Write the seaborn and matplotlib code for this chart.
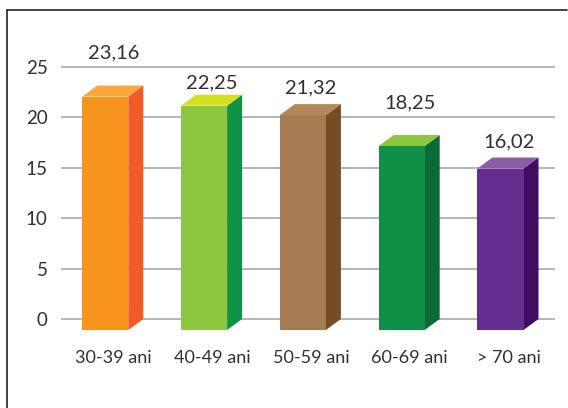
import matplotlib
matplotlib.use("Agg")
import matplotlib.pyplot as plt
import seaborn as sns
import pandas as pd
from matplotlib.patches import Polygon
from matplotlib.lines import Line2D

categories = ["30-39 ani", "40-49 ani", "50-59 ani", "60-69 ani", "> 70 ani"]
values = [23.16, 22.25, 21.32, 18.25, 16.02]
value_labels = ["23,16", "22,25", "21,32", "18,25", "16,02"]
y_ticks = [0, 5, 10, 15, 20, 25]

front_colors = ["#F7941D", "#8DC63F", "#A67C52", "#0E9146", "#662D91"]
side_colors = ["#F15A29", "#0F9447", "#754C24", "#0B6A36", "#400E60"]
top_colors = ["#FBA83A", "#D4DF22", "#B38858", "#8DC63F", "#8C5CA8"]
label_lift = [3.24, 1.15, 1.58, 3.15, 1.58]

sns.set_theme(style="white")
plt.rcParams['font.family'] = ['Lato', 'DejaVu Sans']

W, H = 568, 408
fig = plt.figure(figsize=(W / 100, H / 100), dpi=100)
ylo, yhi = -2.5, 27
ppu_y = 10.08
ax_top = 319 - yhi * ppu_y
ax_bot = 319 - ylo * ppu_y
ax = fig.add_axes([61 / W, 1 - ax_bot / H, 494 / W, (ax_bot - ax_top) / H])

df = pd.DataFrame({"cat": categories, "val": values})
sns.barplot(data=df, x="cat", y="val", hue="cat", palette=front_colors,
            width=0.466, legend=False, ax=ax, saturation=1, zorder=3,
            linewidth=0)

ax.set_xlim(-0.53, 4.47)
ax.set_ylim(ylo, yhi)

dx = 15 / 98.8
dy = 11 / ppu_y
shift = 0.07

bars = sorted(ax.patches, key=lambda p: p.get_x())
for i, p in enumerate(bars):
    x0, w, h = p.get_x(), p.get_width(), p.get_height()
    bx = x0 + shift
    fx = bx - dx
    p.set_x(fx)
    p.set_y(-dy)
    side = Polygon([(fx + w, -dy), (bx + w, 0), (bx + w, h), (fx + w, h - dy)],
                   closed=True, facecolor=side_colors[i], edgecolor="none", zorder=2.9)
    top = Polygon([(fx, h - dy), (bx, h), (bx + w, h), (fx + w, h - dy)],
                  closed=True, facecolor=top_colors[i], edgecolor="none", zorder=2.9)
    ax.add_patch(side)
    ax.add_patch(top)
    ax.text(i, values[i] + label_lift[i], value_labels[i], ha="center", va="center",
            fontsize=14.5, color="#303030", clip_on=False, zorder=5)

ax.set_yticks(y_ticks)
ax.set_yticklabels([str(t) for t in y_ticks])
ax.yaxis.grid(True, color="#a8a8a8", linewidth=1.2)
ax.xaxis.grid(False)
ax.set_axisbelow(True)
for s in ax.spines.values():
    s.set_visible(False)
ax.set_xlabel("")
ax.set_ylabel("")
ax.tick_params(axis="y", length=0, pad=9.5, labelsize=13.5, labelcolor="#303030")
ax.tick_params(axis="x", length=0, pad=4.5, labelsize=13, labelcolor="#303030")

fig.add_artist(Line2D([7 / W, 567 / W], [1 - 10 / H, 1 - 10 / H], color="#222222",
                      linewidth=1.2, transform=fig.transFigure))
fig.add_artist(Line2D([7 / W, 7 / W], [1 - 10 / H, 0], color="#222222",
                      linewidth=1.2, transform=fig.transFigure))

fig.savefig("out.png", dpi=100, facecolor="white")
